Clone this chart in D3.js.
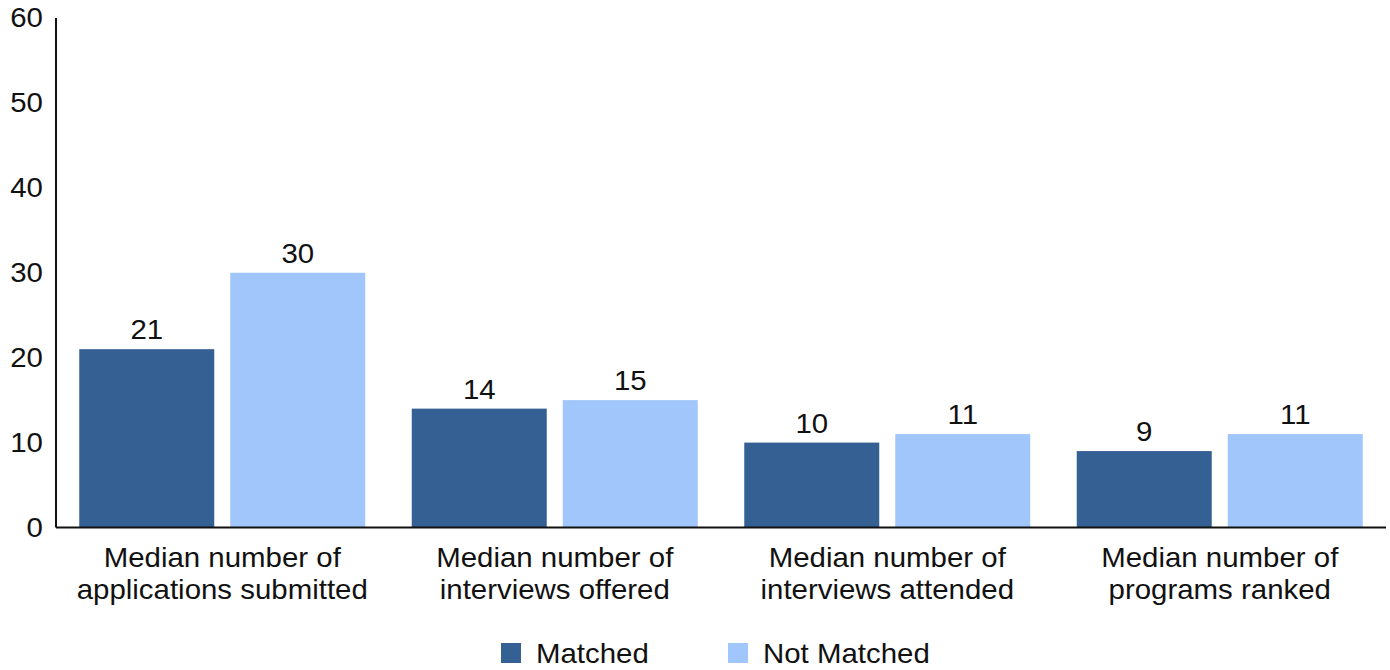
<!DOCTYPE html>
<html>
<head>
<meta charset="utf-8">
<script src="https://cdn.jsdelivr.net/npm/d3@7"></script>
<style>
  html, body { margin: 0; padding: 0; background: #fff; }
  svg { display: block; font-family: "Liberation Sans", Arial, sans-serif; }
</style>
</head>
<body>
<svg id="chart" width="1390" height="670"></svg>
<script>
// Data
const categories = [
  ["Median number of", "applications submitted"],
  ["Median number of", "interviews offered"],
  ["Median number of", "interviews attended"],
  ["Median number of", "programs ranked"]
];
const seriesNames = ["Matched", "Not Matched"];
const matched = [21, 14, 10, 9];
const notMatched = [30, 15, 11, 11];
const yTicks = [0, 10, 20, 30, 40, 50, 60];
const colors = ["#346094", "#a1c6fb"];

// Text is drawn slightly wide
const SX = 1.09;
const FS = 27;

const svg = d3.select("#chart");
const margin = { left: 56, right: 4, top: 18, bottom: 142.5 };
const W = 1390, H = 670;
const plotW = W - margin.left - margin.right;
const plotH = H - margin.top - margin.bottom;

const g = svg.append("g").attr("transform", `translate(${margin.left},${margin.top})`);

const x0 = d3.scaleBand().domain(d3.range(categories.length)).range([0, plotW]).padding(0);
const x1 = d3.scaleBand().domain(seriesNames).range([0, x0.bandwidth()])
  .paddingInner(0.106).paddingOuter(0.154);
const y = d3.scaleLinear().domain([0, 60]).range([plotH, 0]);

const values = [matched, notMatched];

// Bars and value labels
seriesNames.forEach((s, si) => {
  g.selectAll(".bar-" + si)
    .data(values[si])
    .join("rect")
    .attr("x", (d, i) => x0(i) + x1(s))
    .attr("y", d => y(d))
    .attr("width", x1.bandwidth())
    .attr("height", d => plotH - y(d))
    .attr("fill", colors[si]);

  g.selectAll(".lbl-" + si)
    .data(values[si])
    .join("text")
    .attr("transform", (d, i) =>
      `translate(${x0(i) + x1(s) + x1.bandwidth() / 2},${y(d) - 10}) scale(${SX},1)`)
    .attr("text-anchor", "middle")
    .attr("font-size", FS)
    .attr("fill", "#111")
    .text(d => d);
});

// Y axis
const yAxis = d3.axisLeft(y).tickValues(yTicks).tickSize(0).tickPadding(12);
const ya = g.append("g").call(yAxis);
ya.select(".domain").remove();
ya.selectAll("text").attr("font-size", FS).attr("fill", "#111")
  .attr("font-family", "Liberation Sans, Arial, sans-serif")
  .attr("transform", `scale(${SX},1)`);

g.append("line").attr("x1", 0).attr("x2", 0).attr("y1", 0).attr("y2", plotH)
  .attr("stroke", "#111").attr("stroke-width", 2);
g.append("line").attr("x1", 0).attr("x2", plotW).attr("y1", plotH).attr("y2", plotH)
  .attr("stroke", "#111").attr("stroke-width", 2);

// Category labels
const cat = g.selectAll(".cat").data(categories).join("text")
  .attr("text-anchor", "middle")
  .attr("font-size", FS)
  .attr("fill", "#111")
  .attr("transform", (d, i) =>
    `translate(${x0(i) + x0.bandwidth() / 2},${plotH + 39}) scale(${SX},1)`);
cat.selectAll("tspan").data(d => d).join("tspan")
  .attr("x", 0)
  .attr("dy", (d, i) => i === 0 ? 0 : 33)
  .text(d => d);

// Legend
const legendX = [501, 728];
const legend = svg.append("g");
seriesNames.forEach((s, i) => {
  legend.append("rect").attr("x", legendX[i]).attr("y", 643).attr("width", 20).attr("height", 20)
    .attr("fill", colors[i]);
  legend.append("text")
    .attr("transform", `translate(${legendX[i] + 35},663) scale(${SX},1)`)
    .attr("font-size", FS).attr("fill", "#111").text(s);
});
</script>
</body>
</html>
